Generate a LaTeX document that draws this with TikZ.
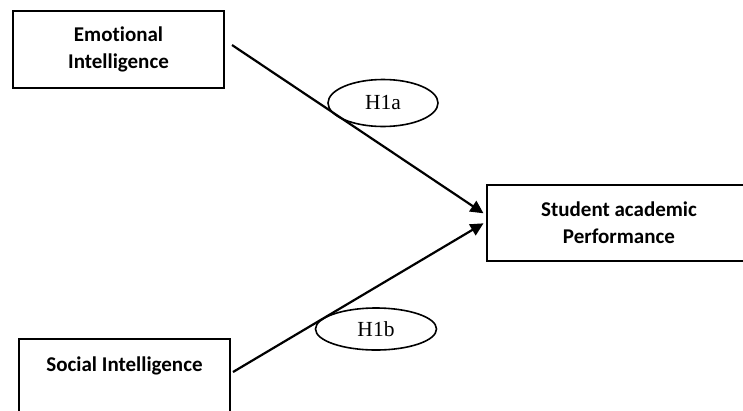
\documentclass[tikz,border=0pt]{standalone}
\usepackage{fontspec}
\newfontfamily\carl[Ligatures=NoCommon]{Carlito}
\newfontfamily\tnr{Liberation Serif}
\usetikzlibrary{arrows.meta,shapes.geometric,calc}
\tikzset{
  boxnode/.style={draw=black, line width=2pt, rectangle, inner sep=0pt, align=center,
    font=\carl\bfseries\fontsize{21}{27}\selectfont},
  hyp/.style={draw=black, line width=1.6pt, ellipse, inner sep=0pt,
    font=\tnr\fontsize{21.5}{25}\selectfont},
  lbl/.style={inner sep=0pt, font=\carl\bfseries\fontsize{21}{27}\selectfont},
  link/.style={line width=2.2pt, -{Triangle[length=13pt,width=12.5pt]}}
}
\begin{document}
\begin{tikzpicture}[x=1pt,y=-1pt]
\useasboundingbox (0,0) rectangle (743,410);
\clip (0,0) rectangle (743,410);
\fill[white] (0,0) rectangle (743,410);
\node[boxnode, minimum width=211pt, minimum height=77pt] (ei) at (118.5,49.5) {Emotional\\Intelligence};
\node[boxnode, minimum width=264pt, minimum height=76pt] (sap) at (619,223) {Student academic\\Performance};
\node[boxnode, minimum width=211pt, minimum height=80pt] (si) at (124.5,379) {};
\node[lbl, anchor=base] (sit) at (124.5,371) {Social Intelligence};
\node[hyp, minimum width=110pt, minimum height=47pt] (h1a) at (383,103) {H1a};
\node[hyp, minimum width=121pt, minimum height=42pt] (h1b) at (376,329) {H1b};
\coordinate (s1) at (232,45);
\coordinate (s2) at (233,372);
\coordinate (t1) at ($(sap.west)+(-2.5,-9.7)$);
\coordinate (t2) at ($(sap.west)+(-2.5,0.3)$);
\draw[link] (s1) -- (t1);
\draw[link] (s2) -- (t2);
\end{tikzpicture}
\end{document}
